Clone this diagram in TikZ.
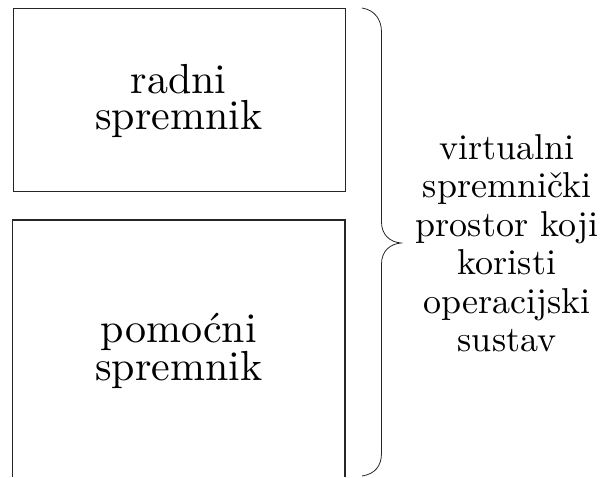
\documentclass[tikz,border=0pt]{standalone}
\usepackage{fontspec}
\newfontfamily\lmten{lmroman10-regular.otf}
\begin{document}
\begin{tikzpicture}[x=1pt,y=1pt,
  boxline/.style={draw=black!85,line width=1.3pt},
  boxtext/.style={align=center,font=\lmten\fontsize{42}{36.5}\selectfont,inner sep=0pt},
  sidetext/.style={align=center,font=\lmten\fontsize{36}{38.5}\selectfont,inner sep=0pt},
  bracestyle/.style={draw=black!85,line width=0.8pt}]
\useasboundingbox (0,0) rectangle (600,-477);
% top box
\node[boxline,minimum width=332.5pt,minimum height=183pt,inner sep=0pt,anchor=north west] (radni) at (12.5,-8) {};
\node[boxtext] (radnitxt) at (178.75,-101) {radni\\spremnik};
% bottom box (open at the bottom)
\coordinate (bl) at (12.5,-477);
\coordinate (br) at (345,-477);
\draw[boxline] (bl) -- (12.5,-220) coordinate (tl) -- (345,-220) coordinate (tr) -- (br);
\node[boxtext] (pomtxt) at (178.75,-351) {pomoćni\\spremnik};
% brace
\coordinate (btop) at (362,-8);
\coordinate (btip) at (401,-243);
\coordinate (bbot) at (362,-476);
\draw[bracestyle] (btop) .. controls (375,-10) and (381.5,-20) .. (381.5,-32)
  -- (381.5,-222) .. controls (381.5,-235) and (390,-242) .. (btip)
  .. controls (390,-244) and (381.5,-251) .. (381.5,-264)
  -- (381.5,-453) .. controls (381.5,-466) and (375,-474) .. (bbot);
\node[sidetext] (virt) at (507,-243) {virtualni\\spremnički\\prostor koji\\koristi\\operacijski\\sustav};
\end{tikzpicture}
\end{document}
